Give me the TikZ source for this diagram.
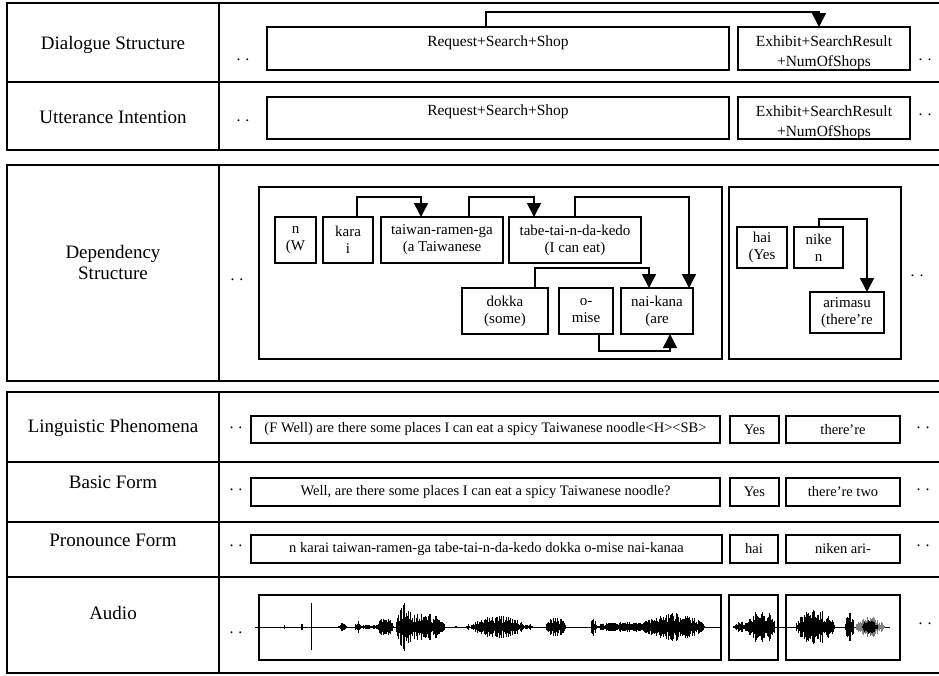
\documentclass[tikz,border=0pt]{standalone}
\usepackage{fontspec}
\setmainfont{Liberation Serif}
\usetikzlibrary{arrows.meta}
\pgfmathsetseed{7}
\newcommand\wseg[4][black]{%
  \pgfmathtruncatemacro\wsn{(#3-#2)/0.7}%
  \foreach \i in {0,...,\wsn}{%
    \pgfmathsetmacro\xx{#2+0.7*\i}%
    \pgfmathsetmacro\hh{max(0.6,#4*(0.3+0.7*rnd)*sqrt(max(0,sin(180*(\xx-#2)/(#3-#2)))))}%
    \draw[wave,#1] (\xx,627-\hh) -- (\xx,627+\hh);
  }}
\begin{document}
\begin{tikzpicture}[x=1pt,y=-1pt,
  frame/.style={line width=2pt},
  box/.style={draw, line width=1.6pt, anchor=north west, inner sep=0pt, outer sep=0pt},
  wbox/.style={box, align=center, font=\fontsize{15}{17}\selectfont},
  sbox/.style={box, font=\fontsize{14.5}{17}\selectfont},
  lbl/.style={font=\fontsize{19}{21}\selectfont, align=center, inner sep=0pt},
  btxt/.style={font=\fontsize{15.5}{20}\selectfont, align=center, inner sep=0pt},
  dots/.style={font=\fontsize{16}{17}\selectfont, inner sep=0pt},
  conn/.style={line width=1.5pt, -{Triangle[width=14pt,length=14pt]}},
  wave/.style={line width=0.85pt}]
\useasboundingbox (0,0) rectangle (939,675);
\fill[white] (0,0) rectangle (939,675);

% ---------- frames ----------
\draw[frame] (939,3) -- (7,3) -- (7,150) -- (939,150);
\draw[frame] (7,82) -- (939,82);
\draw[frame] (219,3) -- (219,150);
\draw[frame] (939,165) -- (7,165) -- (7,381) -- (939,381);
\draw[frame] (219,165) -- (219,381);
\draw[frame] (939,392) -- (7,392) -- (7,673) -- (939,673);
\draw[frame] (7,462) -- (939,462);
\draw[frame] (7,522) -- (939,522);
\draw[frame] (7,577) -- (939,577);
\draw[frame] (219,392) -- (219,673);

% ---------- row labels ----------
\node[lbl] (l1) at (113,45) {Dialogue Structure};
\node[lbl] (l2) at (113,117) {Utterance Intention};
\node[lbl] (l3) at (113,262) {Dependency\\Structure};
\node[lbl] (l4) at (113,428) {Linguistic Phenomena};
\node[lbl] (l5) at (113,482) {Basic Form};
\node[lbl] (l6) at (113,540) {Pronounce Form};
\node[lbl] (l7) at (113,613) {Audio};

% ---------- dots ----------
\node[dots] (d1) at (243,60) {.\kern5pt.};
\node[dots] (d2) at (925,60) {.\kern5pt.};
\node[dots] (d3) at (243,121) {.\kern5pt.};
\node[dots] (d4) at (925,115) {.\kern5pt.};
\node[dots] (d5) at (237,280) {.\kern5pt.};
\node[dots] (d6) at (917,276) {.\kern5pt.};
\node[dots] (d7) at (236,428) {.\kern5pt.};
\node[dots] (d8) at (923,428) {.\kern5pt.};
\node[dots] (d9) at (236,490) {.\kern5pt.};
\node[dots] (d10) at (923,490) {.\kern5pt.};
\node[dots] (d11) at (236,546) {.\kern5pt.};
\node[dots] (d12) at (923,546) {.\kern5pt.};
\node[dots] (d13) at (236,633) {.\kern5pt.};
\node[dots] (d14) at (925,624) {.\kern5pt.};

% ---------- dialogue / utterance ----------
\node[box, minimum width=462pt, minimum height=43pt] (req1) at (267,27) {};
\node[box, minimum width=172pt, minimum height=43pt] (exh1) at (738,27) {};
\node[btxt] (req1t) at ([yshift=-16pt]req1.north) {Request+Search+Shop};
\node[btxt] (exh1t) at ([yshift=-4.5pt]exh1.center) {Exhibit+SearchResult\\+NumOfShops};
\draw[conn] ([xshift=219pt]req1.north west) -- ++(0,-15) -| ([xshift=81pt]exh1.north west);

\node[box, minimum width=462pt, minimum height=42pt] (req2) at (267,97) {};
\node[box, minimum width=172pt, minimum height=42pt] (exh2) at (738,97) {};
\node[btxt] (req2t) at ([yshift=-15pt]req2.north) {Request+Search+Shop};
\node[btxt] (exh2t) at ([yshift=-4.5pt]exh2.center) {Exhibit+SearchResult\\+NumOfShops};

% ---------- dependency ----------
\node[box, minimum width=463pt, minimum height=172pt] (dep1) at (259,187) {};
\node[box, minimum width=172pt, minimum height=172pt] (dep2) at (729,187) {};

\node[wbox, minimum width=41pt, minimum height=46pt] (wn) at (275,217) {n\\(W};
\node[wbox, minimum width=50pt, minimum height=46pt] (kara) at (323,217) {kara\\i};
\node[wbox, minimum width=122pt, minimum height=46pt] (taiwan) at (381,217) {taiwan-ramen-ga\\(a Taiwanese};
\node[wbox, minimum width=132pt, minimum height=46pt] (tabe) at (509,217) {tabe-tai-n-da-kedo\\(I can eat)};
\node[wbox, minimum width=86pt, minimum height=46pt] (dokka) at (462,288) {dokka\\(some)};
\node[wbox, minimum width=54pt, minimum height=46pt] (omise) at (559,288) {o-\\mise};
\node[wbox, minimum width=72pt, minimum height=46pt] (naikana) at (621,288) {nai-kana\\(are};
\node[wbox, minimum width=50pt, minimum height=41pt] (hai) at (737,227) {hai\\(Yes};
\node[wbox, minimum width=49pt, minimum height=41pt] (nike) at (794,227) {nike\\n};
\node[wbox, minimum width=74pt, minimum height=41pt] (arimasu) at (810,292) {arimasu\\(there’re};

\draw[conn] ([xshift=34pt]kara.north west) -- ++(0,-20) -| ([xshift=40pt]taiwan.north west);
\draw[conn] ([xshift=88pt]taiwan.north west) -- ++(0,-20) -| ([xshift=25pt]tabe.north west);
\draw[conn] ([xshift=66pt]tabe.north west) -- ++(0,-20) -| ([xshift=68pt]naikana.north west);
\draw[conn] ([xshift=73pt]dokka.north west) -- ++(0,-20) -| ([xshift=28pt]naikana.north west);
\draw[conn] ([xshift=40pt]omise.south west) -- ++(0,17) -| ([xshift=49pt]naikana.south west);
\draw[conn] ([xshift=25pt]nike.north west) -- ++(0,-8) -| ([xshift=57pt]arimasu.north west);

% ---------- linguistic / basic / pronounce ----------
\node[sbox, minimum width=469pt, minimum height=27pt] (ling) at (251,416) {(F Well) are there some places I can eat a spicy Taiwanese noodle<H><SB>};
\node[sbox, minimum width=49pt, minimum height=27pt] (yes1) at (730,416) {Yes};
\node[sbox, minimum width=114pt, minimum height=27pt] (there1) at (786,416) {there’re};

\node[sbox, minimum width=469pt, minimum height=28pt] (basic) at (251,478) {Well, are there some places I can eat a spicy Taiwanese noodle?};
\node[sbox, minimum width=49pt, minimum height=28pt] (yes2) at (730,478) {Yes};
\node[sbox, minimum width=114pt, minimum height=28pt] (there2) at (786,478) {there’re two};

\node[sbox, minimum width=471pt, minimum height=28pt] (pron) at (251,535) {n karai taiwan-ramen-ga tabe-tai-n-da-kedo dokka o-mise nai-kanaa};
\node[sbox, minimum width=48pt, minimum height=28pt] (hai2) at (730,535) {hai};
\node[sbox, minimum width=114pt, minimum height=28pt] (niken) at (786,535) {niken ari-};

% ---------- audio ----------
\draw[line width=0.8pt] (255,627) -- (721,627);
\draw[line width=0.8pt] (733,627) -- (890,627);
\draw[wave] (311,603) -- (311,650);
\draw[wave] (284,625) -- (284,629);
\draw[wave] (301,624) -- (301,630);
\draw[wave] (302,624) -- (302,630);
\wseg{338}{347}{4}
\wseg{355}{361}{8}
\wseg{360}{377}{2.5}
\wseg{376}{394}{9}
\wseg{396}{414}{24}
\wseg{405}{445}{15}
\wseg{455}{457}{2}
\wseg{466}{470}{3}
\wseg{471}{525}{11}
\wseg{523}{533}{3}
\wseg{546}{566}{11}
\wseg{591}{596}{9}
\wseg{592}{658}{5}
\wseg{636}{705}{14}
\wseg{733}{760}{6}
\wseg{746}{775}{19}
\wseg{796}{835}{17}
\wseg{845}{854}{16}
\wseg[gray]{856}{884}{11}
\wseg{862}{878}{7}

\node[box, minimum width=462pt, minimum height=65pt] (a1) at (259,595) {};
\node[box, minimum width=49pt, minimum height=65pt] (a2) at (729,595) {};
\node[box, minimum width=114pt, minimum height=65pt] (a3) at (786,595) {};
\end{tikzpicture}
\end{document}
